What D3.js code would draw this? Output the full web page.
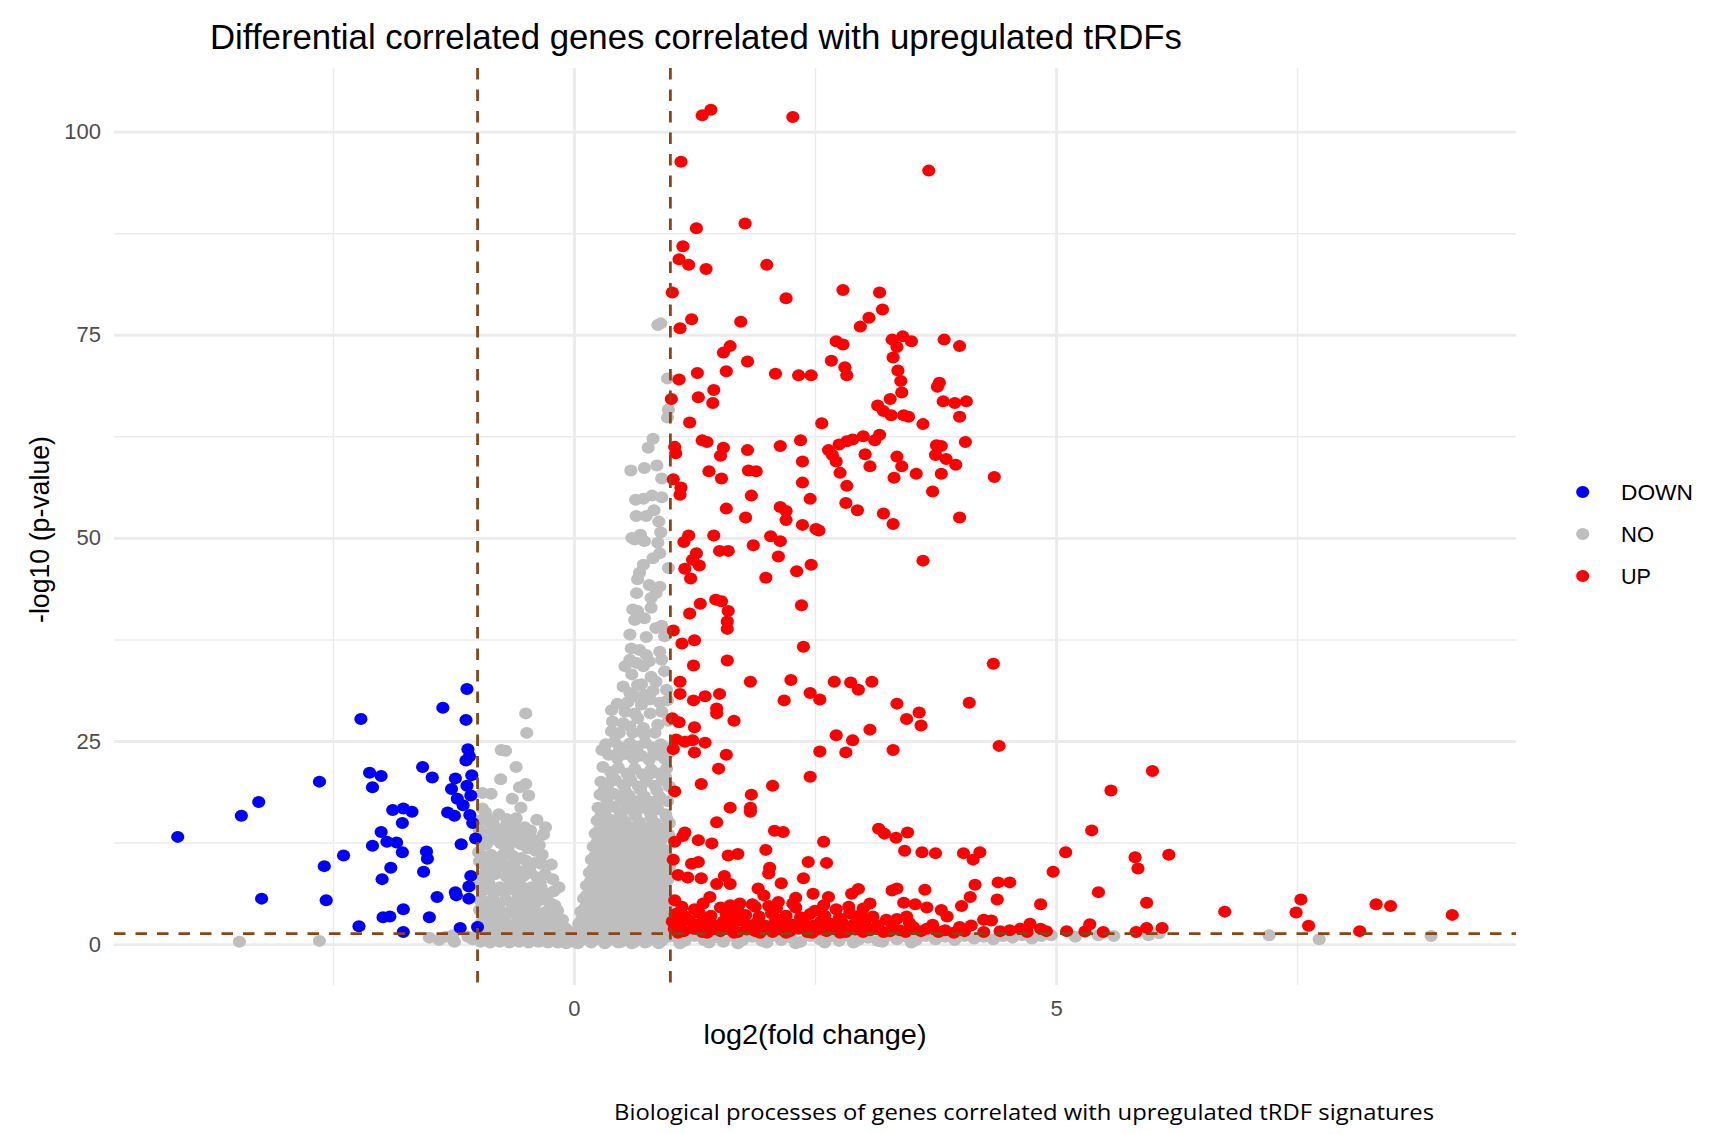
<!DOCTYPE html>
<html>
<head>
<meta charset="utf-8">
<script src="https://cdn.jsdelivr.net/npm/d3@7"></script>
<style>
  body { margin: 0; background: #ffffff; }
  svg { display: block; }
</style>
</head>
<body>
<svg id="chart" width="1719" height="1134"></svg>
<script>
// ---- data: [log2 fold change, -log10 p-value] per gene ----
const downGenes = [
  [-1.11,31.4],[-1.36,29.1],[-1.12,27.6],[-2.21,27.7],[-1.10,24.0],[-1.085,23.1],[-1.12,22.6],[-2.64,20.0],
  [-2.12,21.1],[-2.00,20.7],[-1.57,21.8],[-1.47,20.5],[-1.23,20.4],[-1.06,20.8],[-2.09,19.3],[-1.27,19.1],
  [-1.11,19.5],[-1.07,18.3],[-1.21,17.9],[-1.15,17.1],[-3.27,17.5],[-3.45,15.8],[-4.11,13.2],[-1.88,16.5],
  [-1.77,16.7],[-1.68,16.3],[-1.78,14.9],[-1.31,16.2],[-1.24,15.8],[-1.08,15.9],[-1.05,14.9],[-2.00,13.8],
  [-1.94,12.6],[-1.84,12.5],[-2.09,12.1],[-1.78,11.3],[-1.17,12.3],[-1.02,13.0],[-1.53,11.4],[-1.52,10.5],
  [-2.39,10.9],[-2.59,9.6],[-1.90,9.4],[-1.99,8.0],[-1.56,8.9],[-1.07,8.4],[-1.09,7.1],[-1.23,6.4],
  [-1.22,6.0],[-1.09,5.6],[-1.42,5.8],[-3.24,5.6],[-2.57,5.4],[-1.77,4.3],[-1.98,3.3],[-1.91,3.4],
  [-1.50,3.3],[-2.23,2.2],[-1.77,1.5],[-1.18,2.0],[-1.00,2.1]
];

const noGenes = [
  // left of the fold-change cut
  [-3.47,0.3],[-2.64,0.4],[-1.50,0.8],[-1.40,0.5],[-1.24,0.3],[-1.10,0.9],[-1.26,1.1],[-1.05,0.6],[-1.33,0.9],
  // negative cluster, upper part
  [-0.50,28.4],[-0.49,26.0],[-0.755,23.9],[-0.71,23.8],[-0.60,21.8],[-0.76,20.3],[-0.565,19.3],[-0.50,19.7],
  [-0.47,18.3],[-0.64,17.9],[-0.86,18.5],[-0.95,18.6],[-0.55,16.8],[-0.95,16.7],[-0.60,15.5],[-0.51,14.4],
  [-0.385,15.3],[-0.295,14.4],[-0.316,13.5],[-0.43,12.9],[-0.36,12.2],[-0.236,9.8],[-0.22,8.0],[-0.157,7.0],
  [-0.72,14.4],[-0.79,14.0],[-0.88,14.9],[-0.91,15.7],[-0.70,13.2],
  // negative cluster, dense part
  [-0.98,15.2],[-0.92,16.2],[-0.84,15.0],[-0.78,16.0],[-0.70,15.4],[-0.66,14.6],[-0.58,14.2],[-0.45,14.0],[-0.98,14.0],[-0.88,13.6],
  [-0.97,12.8],[-0.91,12.3],[-0.84,12.9],[-0.76,12.4],[-0.68,12.0],[-0.62,12.8],[-0.55,12.3],[-0.48,11.8],[-0.40,11.5],[-0.33,11.0],
  [-0.99,11.3],[-0.86,11.0],[-0.73,11.1],[-0.64,10.9],
  [-0.98,10.2],[-0.92,9.6],[-0.85,10.0],[-0.80,9.3],[-0.74,9.9],[-0.68,9.2],[-0.62,10.1],[-0.57,9.0],[-0.50,10.3],[-0.45,8.8],
  [-0.41,10.0],[-0.34,9.9],[-0.30,8.6],[-0.96,8.4],[-0.89,8.0],[-0.82,8.6],[-0.70,8.3],[-0.60,8.0],[-0.52,8.4],[-0.38,8.2],
  [-0.99,7.2],[-0.94,6.6],[-0.88,7.4],[-0.83,6.3],[-0.77,7.0],[-0.72,6.4],[-0.66,7.3],[-0.61,6.6],[-0.55,7.2],[-0.49,6.4],
  [-0.44,7.0],[-0.39,6.3],[-0.34,6.9],[-0.27,6.2],[-0.21,6.5],[-0.97,5.4],[-0.90,5.2],[-0.84,5.6],[-0.78,5.0],[-0.71,5.5],
  [-0.65,5.1],[-0.58,5.6],[-0.52,5.0],[-0.46,5.4],[-0.40,5.0],[-0.33,5.5],[-0.25,5.1],
  [-0.98,4.2],[-0.93,3.6],[-0.87,4.4],[-0.81,3.4],[-0.76,4.1],[-0.70,3.6],[-0.64,4.3],[-0.58,3.4],[-0.52,4.0],[-0.46,3.5],
  [-0.41,4.2],[-0.35,3.3],[-0.29,4.0],[-0.23,3.4],[-0.17,4.1],[-0.12,3.0],[-0.96,2.6],[-0.90,2.2],[-0.84,2.8],[-0.78,2.3],
  [-0.72,2.7],[-0.66,2.1],[-0.60,2.6],[-0.54,2.2],[-0.48,2.8],[-0.42,2.2],[-0.37,2.7],[-0.31,2.1],[-0.25,2.6],[-0.19,2.2],
  [-0.14,2.5],[-0.09,2.0],[-0.05,1.6],
  [-0.95,13.2],[-0.80,13.5],[-0.63,13.4],[-0.52,13.1],[-0.93,10.8],[-0.78,10.6],[-0.55,10.6],[-0.46,9.6],[-0.88,9.0],[-0.64,8.8],
  [-0.35,7.6],[-0.93,7.8],[-0.60,7.7],[-0.47,6.0],[-0.30,5.9],[-0.62,4.8],[-0.86,4.9],[-0.44,4.5],[-0.20,4.8],[-0.27,3.0],
  [-0.55,3.0],[-0.82,1.8],[-0.57,1.7],[-0.33,1.6],[-0.12,1.4],
  [-0.99,1.3],[-0.94,0.8],[-0.89,1.2],[-0.84,0.6],[-0.79,1.0],[-0.74,0.5],[-0.69,1.3],[-0.64,0.7],[-0.59,1.1],[-0.54,0.5],
  [-0.49,1.2],[-0.44,0.7],[-0.39,1.0],[-0.34,0.4],[-0.29,1.2],[-0.24,0.6],[-0.19,1.0],[-0.14,0.4],[-0.10,1.1],[-0.06,0.5],
  [-0.02,0.8],[-0.97,0.3],[-0.87,0.2],[-0.77,0.3],[-0.67,0.2],[-0.57,0.3],[-0.47,0.2],[-0.37,0.3],[-0.27,0.2],[-0.17,0.2],
  [-0.08,0.1],[0.02,0.2],[0.08,0.5],
  // positive spike, upper part
  [0.87,76.2],[0.90,76.4],[0.97,69.6],[0.98,65.8],[0.97,64.8],[0.82,62.2],[0.77,61.1],[0.59,58.3],[0.73,58.6],[0.86,58.9],
  [0.91,57.3],[0.64,54.7],[0.72,54.8],[0.81,55.2],[0.91,55.0],[0.83,53.4],[0.645,52.7],[0.75,52.7],[0.88,52.0],[0.60,50.0],
  [0.69,50.4],[0.90,50.7],
  [0.63,49.8],[0.73,49.6],[0.87,49.4],[0.89,48.1],[0.82,47.5],[0.72,46.7],[0.68,45.7],[0.66,44.9],[0.78,44.2],[0.89,44.0],
  [0.85,43.2],[0.80,42.6],[0.98,46.3],[0.65,43.2],[0.61,41.2],[0.66,41.0],[0.73,40.1],[0.63,39.9],[0.80,41.4],[0.85,38.9],
  [0.91,39.2],[0.58,38.1],[0.75,37.8],[0.94,37.9],[0.595,36.4],[0.68,36.2],[0.75,35.6],[0.89,36.0],[0.58,35.0],[0.65,34.6],
  [0.72,34.2],[0.53,34.2],[0.78,34.8],[0.91,35.0],[0.94,33.6],[0.80,32.9],[0.85,32.3],[0.66,31.9],[0.51,31.7],[0.58,30.9],
  [0.63,30.5],[0.73,30.7],[0.79,30.1],[0.70,29.5],[0.89,29.7],[0.96,31.3],[0.39,28.8],[0.53,28.6],[0.63,28.4],[0.79,28.4],
  [0.91,28.6],[0.40,27.4],[0.51,27.2],[0.58,26.8],[0.72,26.6],[0.87,27.0],[0.39,26.2],[0.47,26.0],[0.61,26.0],[0.73,25.8],
  [0.84,26.0],[0.70,32.0],[0.60,33.2],[0.97,30.0],[0.45,29.6],[0.98,27.5],[0.66,27.8],[0.82,31.2],[0.56,29.8],
  // positive spike, lower part
  [0.33,24.6],[0.42,24.9],[0.50,24.2],[0.58,24.7],[0.66,24.3],[0.74,24.8],[0.82,24.2],[0.90,24.6],[0.97,24.1],[0.36,23.3],
  [0.45,22.9],[0.54,23.4],[0.62,22.8],[0.70,23.2],[0.78,22.7],[0.86,23.3],[0.94,22.8],[0.99,23.6],
  [0.30,21.8],[0.38,21.2],[0.46,21.7],[0.55,21.0],[0.63,21.6],[0.71,20.9],[0.80,21.5],[0.88,21.0],[0.96,21.6],[0.28,20.0],
  [0.35,19.5],[0.43,20.2],[0.51,19.6],[0.59,20.1],[0.67,19.4],[0.75,20.0],[0.84,19.5],[0.92,20.2],[0.99,19.4],
  [0.27,18.4],[0.34,17.8],[0.41,18.5],[0.49,17.7],[0.57,18.3],[0.65,17.6],[0.73,18.2],[0.81,17.5],[0.89,18.1],[0.97,17.6],
  [0.25,16.8],[0.32,16.3],[0.40,16.9],[0.48,16.2],[0.56,16.7],[0.63,16.1],[0.71,16.8],[0.79,16.2],[0.87,16.6],[0.95,16.0],
  [0.24,15.2],[0.31,14.6],[0.38,15.3],[0.45,14.5],[0.53,15.1],[0.60,14.4],[0.68,15.0],[0.76,14.3],[0.84,14.9],[0.92,14.2],
  [0.99,14.9],[0.22,13.6],[0.29,13.1],[0.36,13.7],[0.44,13.0],[0.51,13.5],[0.59,12.9],[0.67,13.4],[0.75,12.8],[0.83,13.3],
  [0.91,12.9],[0.98,13.5],
  [0.20,12.0],[0.27,11.4],[0.34,12.1],[0.41,11.3],[0.48,11.9],[0.56,11.2],[0.63,11.8],[0.71,11.1],[0.79,11.7],[0.87,11.0],
  [0.95,11.6],[0.18,10.4],[0.25,9.9],[0.32,10.5],[0.39,9.8],[0.46,10.3],[0.53,9.7],[0.61,10.2],[0.69,9.6],[0.77,10.1],
  [0.85,9.5],[0.93,10.2],[0.99,9.6],
  [0.16,8.8],[0.23,8.2],[0.30,8.9],[0.37,8.1],[0.44,8.7],[0.51,8.0],[0.58,8.6],[0.66,7.9],[0.74,8.5],[0.82,7.8],
  [0.90,8.4],[0.97,7.9],[0.13,7.2],[0.20,6.6],[0.27,7.3],[0.34,6.5],[0.41,7.1],[0.48,6.4],[0.55,7.0],[0.63,6.3],
  [0.71,6.9],[0.79,6.2],[0.87,6.8],[0.95,6.2],
  [0.10,5.6],[0.17,5.0],[0.24,5.7],[0.31,4.9],[0.38,5.5],[0.45,4.8],[0.52,5.4],[0.60,4.7],[0.68,5.3],[0.76,4.6],
  [0.84,5.2],[0.92,4.6],[0.99,5.1],[0.07,4.0],[0.14,3.4],[0.21,4.1],[0.28,3.3],[0.35,3.9],[0.42,3.2],[0.49,3.8],
  [0.57,3.1],[0.65,3.7],[0.73,3.0],[0.81,3.6],[0.89,3.0],[0.97,3.5],[0.05,2.5],[0.12,2.0],[0.19,2.6],[0.26,1.9],
  [0.33,2.4],[0.40,1.8],[0.47,2.3],[0.55,1.7],[0.63,2.2],[0.71,1.6],[0.79,2.1],[0.87,1.5],[0.95,2.0],
  [0.29,23.9],[0.47,23.8],[0.65,23.7],[0.83,23.6],[0.40,20.6],[0.57,20.7],[0.77,20.8],[0.95,20.6],[0.31,18.9],[0.53,18.9],
  [0.69,19.0],[0.86,18.9],[0.36,17.1],[0.53,17.3],[0.69,17.0],[0.85,17.3],[0.28,15.8],[0.49,15.7],[0.64,15.8],[0.80,15.6],
  [0.96,15.5],[0.26,14.0],[0.41,14.2],[0.56,14.1],[0.72,14.0],[0.88,13.9],[0.24,12.5],[0.38,12.6],[0.55,12.5],[0.71,12.4],
  [0.87,12.3],[0.22,10.9],[0.37,10.8],[0.52,10.9],[0.66,10.8],[0.83,10.7],[0.97,10.8],[0.20,9.3],[0.35,9.4],[0.49,9.2],
  [0.65,9.3],[0.81,9.1],[0.96,9.0],[0.17,7.7],[0.33,7.6],[0.47,7.7],[0.62,7.5],[0.78,7.6],[0.93,7.4],[0.13,6.0],
  [0.28,5.9],[0.43,6.0],[0.59,5.8],[0.75,5.9],[0.91,5.8],[0.11,4.4],[0.25,4.4],[0.39,4.3],[0.55,4.2],[0.71,4.3],
  [0.87,4.1],[0.08,3.0],[0.23,2.9],[0.38,2.8],[0.53,2.7],[0.68,2.8],[0.84,2.6],[0.98,2.7],[0.03,1.6],[0.17,1.5],
  [0.31,1.4],[0.45,1.5],[0.60,1.4],[0.76,1.3],[0.92,1.2],
  [0.00,1.2],[0.07,0.7],[0.14,1.1],[0.21,0.5],[0.28,1.0],[0.35,0.4],[0.42,0.9],[0.49,0.3],[0.56,0.8],[0.63,0.3],
  [0.70,0.9],[0.77,0.4],[0.84,1.0],[0.91,0.4],[0.98,0.9],[0.04,0.1],[0.18,0.2],[0.32,0.1],[0.46,0.2],[0.60,0.1],
  [0.74,0.2],[0.88,0.1],
  // below the p-value cut, right of the fold-change cut
  [1.05,0.9],[1.15,0.4],[1.25,1.0],[1.35,0.5],[1.45,0.8],[1.55,0.3],[1.65,1.0],[1.75,0.5],[1.85,0.9],[1.95,0.4],
  [2.05,1.0],[2.15,0.5],[2.25,0.8],[2.35,0.3],[2.45,1.0],[2.55,0.6],[2.65,0.9],[2.75,0.4],[2.85,1.0],[2.95,0.5],
  [3.05,0.8],[3.15,0.4],[3.25,1.0],[3.35,0.6],[3.45,0.9],[3.55,0.5],[3.65,1.0],[3.75,0.6],[3.85,0.9],[3.95,0.5],
  [4.05,1.0],[4.15,0.7],[4.25,0.9],[4.35,0.6],[4.45,1.0],[4.55,0.8],[4.65,1.1],[4.75,0.7],[4.85,1.0],[4.95,1.1],
  [5.20,0.9],[5.44,1.1],[5.60,1.0],[5.96,1.1],[6.07,1.35],[7.21,1.1],[7.73,0.6],[8.89,1.0],
  [1.10,0.1],[1.40,0.2],[1.70,0.1],[2.00,0.2],[2.30,0.1],[2.60,0.2],[2.90,0.2],[3.20,0.3],[3.50,0.2]
];

const upGenes = [
  [1.42,102.7],[1.33,102.0],[2.27,101.8],[1.11,96.3],[3.68,95.2],[1.775,88.7],[1.27,88.1],[1.13,85.9],[1.09,84.3],[1.19,83.6],
  [1.37,83.1],[2.00,83.6],[1.02,80.2],[2.20,79.5],[2.79,80.5],[3.17,80.2],[3.20,78.1],[3.06,77.1],[2.97,76.0],[1.22,76.9],
  [1.10,75.8],[1.73,76.6],[2.72,74.2],[2.79,73.8],[3.30,74.4],[3.41,74.8],[3.35,73.5],[3.50,74.2],[3.84,74.4],[4.00,73.6],
  [1.55,72.8],[1.62,73.6],[1.80,71.7],[2.67,71.8],[3.31,72.2],[1.58,70.5],[1.09,69.5],[1.28,70.3],[2.09,70.2],[2.33,70.0],
  [2.46,70.0],[2.81,71.0],[2.83,70.0],[3.36,70.6],[3.39,69.3],[3.40,67.9],[3.79,69.1],[3.77,68.6],[3.83,66.8],[3.95,66.6],
  [4.07,66.8],[4.00,64.9],[1.01,67.1],[1.29,67.3],[1.45,68.2],[1.44,66.6],[3.15,66.3],[3.21,65.6],[3.28,67.1],[3.29,65.1],
  [3.42,65.1],[3.47,64.9],[3.62,64.0],[2.57,64.1],[1.20,64.2],[1.33,62.0],[1.38,61.8],[1.045,61.2],[1.055,60.4],[1.55,61.1],
  [1.52,60.1],[1.80,60.8],[2.14,61.3],[2.35,62.0],[2.37,59.4],[2.37,56.8],[2.75,61.5],[2.83,61.9],[2.89,62.1],[3.00,62.5],
  [3.12,62.0],[3.17,62.7],[2.64,60.8],[2.68,60.2],[2.72,59.4],[3.02,60.3],[3.07,58.8],[2.76,58.0],[2.83,56.4],[3.35,60.0],
  [3.40,58.8],[3.32,57.4],[3.55,57.9],[3.76,61.4],[3.81,61.3],[3.75,60.2],[3.86,59.7],[3.96,59.0],[3.81,57.9],[4.06,61.8],
  [4.36,57.5],[3.72,55.7],[1.40,58.2],[1.53,57.3],[1.81,58.3],[1.89,58.2],[1.03,57.2],[1.11,56.2],[1.10,55.3],[1.84,55.2],
  [2.45,54.8],[2.82,54.3],[2.94,53.4],
  [1.58,53.6],[1.78,52.5],[2.14,53.8],[2.20,53.3],[2.20,52.2],[2.37,51.6],[2.51,51.1],[2.54,50.9],[3.21,53.0],[3.31,51.7],
  [4.00,52.5],[1.19,50.3],[1.14,49.5],[1.45,50.3],[1.51,48.4],[1.60,48.4],[1.86,49.1],[2.04,50.2],[2.14,49.6],[2.12,47.7],
  [1.27,48.1],[1.23,47.3],[1.30,46.6],[1.15,46.2],[1.21,45.0],[1.99,45.1],[2.31,45.9],[2.46,46.7],[3.62,47.2],[1.31,41.9],
  [1.20,40.7],[1.47,42.4],[1.53,42.2],[1.60,41.0],[1.59,39.7],[1.59,38.8],[2.36,41.7],[1.03,38.6],[1.12,37.0],[1.25,37.4],
  [2.38,36.6],[1.24,34.3],[1.59,34.9],[4.35,34.5],[1.10,32.3],[1.83,32.3],[2.25,32.5],[2.70,32.3],[2.87,32.2],[2.95,31.3],
  [3.09,32.3],[1.10,30.8],[1.24,30.0],[1.36,30.5],[1.51,30.8],[2.18,30.0],[2.45,30.9],[2.55,30.1],[1.48,29.0],[1.48,28.4],
  [3.35,29.6],[4.10,29.7],[1.02,27.8],[1.09,27.3],[1.66,27.5],[1.25,26.7],[3.58,28.5],[3.60,26.9],[3.45,27.7],[3.07,26.4],
  [2.72,25.7],[2.89,25.1],[1.06,25.2],[1.15,24.9],[1.23,25.1],[1.36,24.8],[1.03,24.0],[1.25,23.6],[1.58,23.3],[2.55,23.7],
  [2.82,23.6],[3.31,23.9],[4.41,24.4],[1.50,21.6],[2.45,20.6],[1.32,19.7],[2.06,19.5],[1.045,18.8],[1.84,18.4],
  [1.62,16.8],[1.83,16.8],[1.83,16.3],[1.48,15.0],[1.15,13.75],[1.13,13.3],[1.045,12.6],[1.29,12.8],[1.43,12.4],[2.08,13.95],
  [2.17,13.8],[2.59,12.6],[1.99,11.6],[1.60,10.9],[1.70,11.1],[1.03,10.4],[1.22,9.9],[1.29,10.1],[2.43,10.1],[2.62,10.0],
  [2.03,9.4],[2.02,8.7],[1.08,8.5],[1.18,8.2],[1.32,8.1],[1.56,8.4],[1.62,7.4],[1.48,7.4],[2.15,7.5],[2.38,8.1],
  [1.91,6.85],[1.97,6.0],[2.48,6.2],[1.045,5.4],[1.41,5.8],[1.34,5.0],[2.12,5.2],[2.10,4.4],[2.27,5.0],[2.64,5.8],
  [2.59,4.8],[2.95,6.8],[2.88,6.2],[3.16,14.2],[3.22,13.6],[3.34,13.1],[3.46,13.75],[3.43,11.5],[3.61,11.3],[3.75,11.2],
  [4.04,11.2],[4.14,10.4],[4.21,11.3],[4.52,7.6],[4.40,7.6],[4.16,7.3],[4.11,5.8],[4.39,5.5],[4.84,4.9],[3.30,6.6],
  [3.35,6.85],[3.64,6.7],[3.07,5.0],[3.42,5.1],[3.54,4.9],[3.66,4.5],[3.81,4.2],[3.87,3.4],[4.02,4.7],[2.85,4.6],
  [2.86,3.8],[2.93,3.4],[3.10,3.4],[3.24,3.0],[3.35,3.1],[3.45,3.4],[4.25,3.0],[4.33,2.9],[4.52,1.7],[4.63,1.9],
  [4.73,2.5],[4.84,1.9],[4.12,2.3],[3.94,1.4],[3.85,1.7],[3.66,1.9],[3.52,2.1],[3.38,1.7],[3.21,1.5],[3.07,1.7],
  [6.00,21.3],[5.57,18.9],[5.37,14.0],[5.10,11.3],[4.97,8.9],[5.82,10.7],[5.85,9.3],[6.17,11.0],[5.44,6.4],[5.94,5.1],
  [6.75,4.0],[7.54,5.5],[7.49,3.9],[7.62,2.25],[8.32,4.9],[8.47,4.7],[9.11,3.6],[8.15,1.6],[5.11,1.6],[5.30,1.55],
  [5.35,2.45],[5.49,1.5],[5.83,1.5],[5.94,2.0],[6.10,2.0],
  [1.12,4.6],[1.25,4.3],[1.52,4.5],[1.70,4.2],[1.88,4.6],[2.30,4.5],[2.50,4.1],[2.72,4.3],[3.00,4.4],[1.62,4.8],
  [2.02,4.7],[1.72,5.0],[1.85,4.9],[2.30,5.7],
  [1.05,3.7],[1.15,3.4],[1.30,3.8],[1.42,3.5],[1.58,3.7],[1.66,3.3],[1.78,3.6],[1.92,3.4],[2.05,3.8],[2.20,3.5],
  [2.35,3.3],[2.45,3.7],[2.60,3.5],[2.75,3.2],[2.98,3.6],[1.36,3.1],[2.12,3.0],
  [1.02,2.8],[1.10,2.5],[1.20,2.9],[1.28,2.4],[1.38,2.7],[1.47,2.3],[1.55,2.8],[1.63,2.5],[1.72,2.9],[1.80,2.4],
  [1.90,2.7],[1.98,2.3],[2.08,2.6],[2.18,2.9],[2.27,2.4],[2.38,2.7],[2.48,2.3],[2.56,2.8],[2.66,2.5],[2.78,2.7],
  [2.90,2.4],[3.02,2.6],[3.15,2.3],[3.30,2.5],[3.48,2.6],[3.72,2.4],[4.00,2.1],
  [1.04,1.9],[1.14,1.6],[1.24,1.9],[1.33,1.5],[1.43,1.8],[1.52,1.6],[1.61,1.9],[1.70,1.5],[1.79,1.8],[1.88,1.6],
  [1.97,1.9],[2.06,1.5],[2.15,1.8],[2.24,1.6],[2.33,1.9],[2.42,1.5],[2.52,1.8],[2.62,1.6],[2.71,1.9],[2.82,1.5],
  [2.92,1.8],[3.00,1.5],[3.12,1.9],[3.28,1.6],[3.44,1.5],[3.60,1.6],[3.78,1.5],[4.05,1.6],[4.25,1.5],[4.42,1.6],
  [4.70,1.5],[4.90,1.6],
  [1.08,1.4],[1.38,1.4],[1.66,1.4],[1.93,1.4],[2.20,1.4],[2.47,1.4],[2.76,1.4]
];

const groupNames = ["DOWN", "NO", "UP"];
const groupColors = ["#0000FF", "#BEBEBE", "#FF0000"];
const xMajorTicks = [0, 5];
const xMinorTicks = [-2.5, 2.5, 7.5];
const yMajorTicks = [0, 25, 50, 75, 100];
const yMinorTicks = [12.5, 37.5, 62.5, 87.5];
const foldChangeCut = 1;
const pValueCut = -Math.log10(0.05);

const titleText = "Differential correlated genes correlated with upregulated tRDFs";
const xTitleText = "log2(fold change)";
const yTitleText = "-log10 (p-value)";
const captionText = "Biological processes of genes correlated with upregulated tRDF signatures";

// ---- layout ----
const panel = { left: 114, right: 1516, top: 68, bottom: 985 };
const fontMain = "'Liberation Sans', Arial, Helvetica, sans-serif";
const gridColor = "#EBEBEB";
const cutColor = "#8B4513";
const dotRx = 6.6, dotRy = 6.0;

const svg = d3.select("#chart");
svg.append("rect").attr("width", 1719).attr("height", 1134).attr("fill", "#ffffff");

// ggplot-style 5% expansion around the data range
const allGenes = downGenes.concat(noGenes, upGenes);
const expand = ext => { const r = ext[1] - ext[0]; return [ext[0] - 0.05 * r, ext[1] + 0.05 * r]; };
const x = d3.scaleLinear().domain(expand(d3.extent(allGenes, d => d[0]))).range([panel.left, panel.right]);
const y = d3.scaleLinear().domain(expand(d3.extent(allGenes, d => d[1]))).range([panel.bottom, panel.top]);

const pw = panel.right - panel.left, ph = panel.bottom - panel.top;

// minor grid
const gxMinor = svg.append("g").attr("transform", `translate(0,${panel.bottom})`)
  .call(d3.axisBottom(x).tickValues(xMinorTicks).tickSize(-ph).tickFormat(""));
const gyMinor = svg.append("g").attr("transform", `translate(${panel.left},0)`)
  .call(d3.axisLeft(y).tickValues(yMinorTicks).tickSize(-pw).tickFormat(""));
[gxMinor, gyMinor].forEach(g => {
  g.select(".domain").remove();
  g.selectAll("line").attr("stroke", gridColor).attr("stroke-width", 1.4);
});

// major grid with tick labels
const gx = svg.append("g").attr("transform", `translate(0,${panel.bottom})`)
  .call(d3.axisBottom(x).tickValues(xMajorTicks).tickSize(-ph).tickPadding(15).tickFormat(d3.format("d")));
const gy = svg.append("g").attr("transform", `translate(${panel.left},0)`)
  .call(d3.axisLeft(y).tickValues(yMajorTicks).tickSize(-pw).tickPadding(13).tickFormat(d3.format("d")));
[gx, gy].forEach(g => {
  g.select(".domain").remove();
  g.attr("font-family", fontMain).attr("font-size", 22);
  g.selectAll("line").attr("stroke", gridColor).attr("stroke-width", 2.8);
  g.selectAll("text").attr("fill", "#4D4D4D");
});

// points
const groups = [downGenes, noGenes, upGenes];
const drawOrder = [1, 0, 2];
const pts = svg.append("g");
drawOrder.forEach(gi => {
  pts.append("g").selectAll("ellipse").data(groups[gi]).join("ellipse")
    .attr("cx", d => x(d[0])).attr("cy", d => y(d[1]))
    .attr("rx", dotRx).attr("ry", dotRy)
    .attr("fill", groupColors[gi]);
});

// threshold lines
const cuts = svg.append("g").attr("stroke", cutColor).attr("stroke-width", 2.8)
  .attr("stroke-dasharray", "11.5 10").attr("fill", "none");
[-foldChangeCut, foldChangeCut].forEach(v => {
  cuts.append("line").attr("x1", x(v)).attr("x2", x(v)).attr("y1", panel.top).attr("y2", panel.bottom);
});
cuts.append("line").attr("x1", panel.left).attr("x2", panel.right).attr("y1", y(pValueCut)).attr("y2", y(pValueCut));

// titles
svg.append("text").attr("x", 210).attr("y", 49)
  .attr("font-family", fontMain).attr("font-size", 34.5).attr("fill", "#000")
  .attr("textLength", 972).attr("lengthAdjust", "spacingAndGlyphs")
  .text(titleText);

svg.append("text").attr("x", (panel.left + panel.right) / 2).attr("y", 1044)
  .attr("text-anchor", "middle")
  .attr("font-family", fontMain).attr("font-size", 28.5).attr("fill", "#000")
  .attr("textLength", 223).attr("lengthAdjust", "spacingAndGlyphs")
  .text(xTitleText);

svg.append("text")
  .attr("transform", `translate(48.5,${(panel.top + panel.bottom) / 2 + 3}) rotate(-90)`)
  .attr("text-anchor", "middle")
  .attr("font-family", fontMain).attr("font-size", 28.5).attr("fill", "#000")
  .attr("textLength", 187).attr("lengthAdjust", "spacingAndGlyphs")
  .text(yTitleText);

// legend
const legendWidths = [72, 33, 30];
const legend = svg.append("g");
groupNames.forEach((name, i) => {
  const cy = 492 + i * 42;
  legend.append("ellipse").attr("cx", 1582.7).attr("cy", cy).attr("rx", dotRx).attr("ry", dotRy)
    .attr("fill", groupColors[i]);
  legend.append("text").attr("x", 1621).attr("y", cy).attr("dy", "0.36em")
    .attr("font-family", fontMain).attr("font-size", 22.5).attr("fill", "#000")
    .attr("textLength", legendWidths[i]).attr("lengthAdjust", "spacingAndGlyphs")
    .text(name);
});

// caption
svg.append("text").attr("x", 614).attr("y", 1119.5)
  .attr("font-family", "'Open Sans', Lato, sans-serif").attr("font-size", 22).attr("fill", "#000")
  .attr("textLength", 820).attr("lengthAdjust", "spacingAndGlyphs")
  .text(captionText);
</script>
</body>
</html>
